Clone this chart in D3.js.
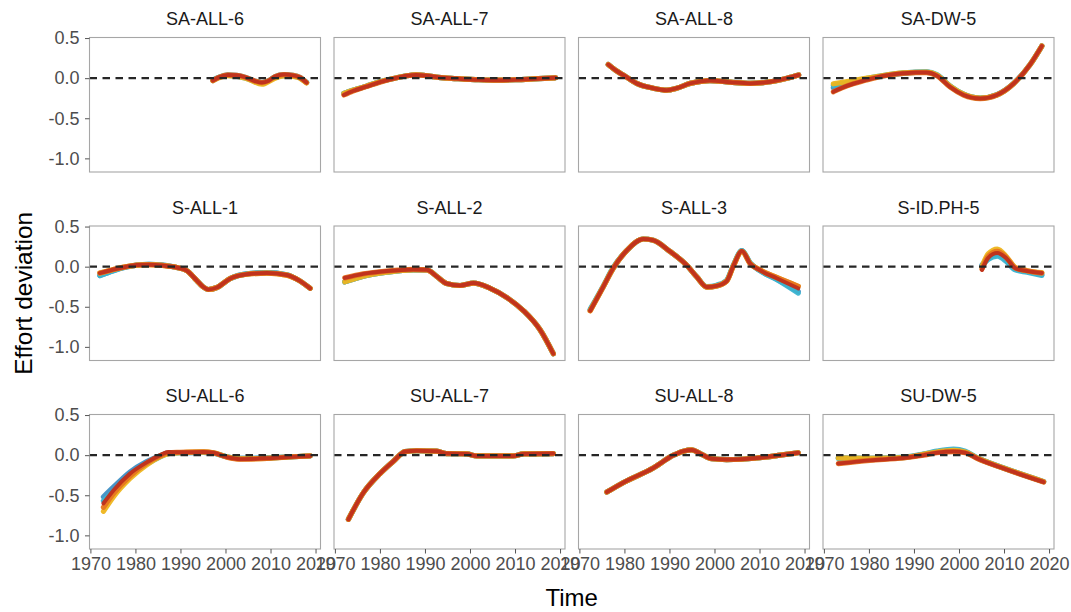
<!DOCTYPE html>
<html>
<head>
<meta charset="utf-8">
<script src="https://cdn.jsdelivr.net/npm/d3@7"></script>
<style>
  html, body { margin: 0; padding: 0; background: #fff; }
  svg { display: block; font-family: "Liberation Sans", Arial, Helvetica, sans-serif; }
</style>
</head>
<body>
<svg id="chart" width="1071" height="612"></svg>
<script>
// Facet labels, in reading order (4 columns x 3 rows)
const panelNames = [
  "SA-ALL-6", "SA-ALL-7", "SA-ALL-8", "SA-DW-5",
  "S-ALL-1", "S-ALL-2", "S-ALL-3", "S-ID.PH-5",
  "SU-ALL-6", "SU-ALL-7", "SU-ALL-8", "SU-DW-5"
];

// Axis ticks
const xTicks = [1970, 1980, 1990, 2000, 2010, 2020];
const xTickLabels = ["1970", "1980", "1990", "2000", "2010", "2020"];
const yTicks = [-1.0, -0.5, 0.0, 0.5];
const yTickLabels = ["-1.0", "-0.5", "0.0", "0.5"];

// Model runs, drawn bottom to top
const modelNames = ["blue", "cyan", "yellow", "orange", "red"];
const modelColors = ["#3f8fc4", "#3bb3d0", "#eeb51c", "#e7761f", "#be2f1d"];

// Smoothed effort deviation per facet: [year, deviation]
const red_SA_ALL_6 = [[1997.2,-0.03],[1998.5,0.01],[2000.5,0.04],[2002.5,0.035],[2004.5,0.01],[2006.5,-0.035],[2008.1,-0.055],[2009.5,-0.035],[2011,0.02],[2013,0.045],[2015,0.035],[2016.5,0.01],[2018,-0.055]];
const yellow_SA_ALL_6 = [[1997.2,-0.03],[2000.5,0.03],[2004.5,0.0],[2008.1,-0.075],[2011,0.0],[2013.5,0.03],[2016,0.01],[2018,-0.06]];
const cyan_SA_ALL_6 = [[1997.2,-0.02],[2000.5,0.035],[2004.5,0.0],[2008.1,-0.065],[2011,0.01],[2013.5,0.035],[2016,0.015],[2018,-0.05]];

const red_SA_ALL_7 = [[1972,-0.21],[1974,-0.16],[1977,-0.105],[1980,-0.05],[1983,-0.005],[1986,0.03],[1988,0.04],[1990.5,0.03],[1993,0.01],[1997,-0.005],[2002,-0.02],[2006,-0.025],[2010,-0.02],[2014,-0.01],[2019,0.005]];
const other_SA_ALL_7 = [[1972,-0.19],[1974,-0.15],[1977,-0.1],[1980,-0.045],[1983,-0.005],[1986,0.03],[1988,0.04],[1990.5,0.03],[1993,0.01],[1997,-0.005],[2002,-0.02],[2006,-0.025],[2010,-0.02],[2014,-0.01],[2019,0.005]];

const red_SA_ALL_8 = [[1976.4,0.17],[1978,0.1],[1980,0.03],[1982.7,-0.065],[1986.4,-0.125],[1989.4,-0.15],[1991.6,-0.125],[1994.6,-0.065],[1997,-0.04],[1999,-0.03],[2003.5,-0.05],[2007.9,-0.065],[2012.4,-0.045],[2016.1,0.0],[2018.7,0.04]];

const red_SA_DW_5 = [[1972.1,-0.17],[1974,-0.12],[1976.5,-0.07],[1979,-0.03],[1981.7,0.01],[1984.5,0.04],[1987.6,0.06],[1990.5,0.07],[1992.8,0.07],[1995.1,0.03],[1998,-0.11],[2001,-0.21],[2004.7,-0.255],[2008.4,-0.21],[2012.1,-0.07],[2015.8,0.17],[2018.4,0.4]];
const blue_SA_DW_5 = [[1972.1,-0.12],[1976.5,-0.05],[1981.7,0.015],[1987.6,0.06],[1992.8,0.075],[1995.1,0.035],[1998,-0.1],[2001,-0.2],[2004.7,-0.25],[2008.4,-0.205],[2012.1,-0.065],[2015.8,0.17],[2018.4,0.4]];
const yellow_SA_DW_5 = [[1972.1,-0.07],[1976.5,-0.03],[1981.7,0.02],[1987.6,0.065],[1992.8,0.075],[1995.1,0.04],[1998,-0.1],[2001,-0.2],[2004.7,-0.25],[2008.4,-0.21],[2012.1,-0.07],[2015.8,0.17],[2018.4,0.4]];
const cyan_SA_DW_5 = [[1972.1,-0.09],[1976.5,-0.04],[1981.7,0.02],[1987.6,0.065],[1992.8,0.08],[1995.1,0.045],[1998,-0.095],[2001,-0.2],[2004.7,-0.25],[2008.4,-0.21],[2012.1,-0.07],[2015.8,0.17],[2018.4,0.4]];

const red_S_ALL_1 = [[1972.1,-0.08],[1975.1,-0.035],[1978,0.0],[1980.3,0.02],[1983,0.025],[1986,0.015],[1989.2,-0.01],[1991.4,-0.05],[1993.6,-0.17],[1995,-0.25],[1996.2,-0.285],[1998.1,-0.26],[2001,-0.15],[2004.7,-0.095],[2009.2,-0.08],[2013.6,-0.105],[2016.6,-0.18],[2018.8,-0.27]];
const cyan_S_ALL_1 = [[1972.1,-0.11],[1975.1,-0.05],[1978,-0.005],[1980.3,0.02],[1983,0.03],[1986,0.02],[1989.2,-0.01],[1991.4,-0.05],[1993.6,-0.17],[1995,-0.25],[1996.2,-0.285],[1998.1,-0.26],[2001,-0.15],[2004.7,-0.09],[2009.2,-0.075],[2013.6,-0.1],[2016.6,-0.18],[2018.8,-0.27]];

const red_S_ALL_2 = [[1972.2,-0.14],[1976.3,-0.09],[1981.5,-0.055],[1987.4,-0.035],[1990.4,-0.04],[1992.6,-0.12],[1994.8,-0.21],[1997.8,-0.235],[2000.8,-0.205],[2004.5,-0.27],[2008.2,-0.385],[2011.9,-0.55],[2015.6,-0.79],[2018.5,-1.085]];
const other_S_ALL_2 = [[1972.2,-0.19],[1976.3,-0.12],[1981.5,-0.07],[1987.4,-0.04],[1990.4,-0.04],[1992.6,-0.12],[1994.8,-0.21],[1997.8,-0.235],[2000.8,-0.205],[2004.5,-0.27],[2008.2,-0.385],[2011.9,-0.55],[2015.6,-0.79],[2018.5,-1.085]];

const red_S_ALL_3 = [[1972.4,-0.55],[1975.3,-0.25],[1977.5,-0.02],[1980.5,0.2],[1984.2,0.345],[1986.4,0.33],[1990.1,0.19],[1993.8,0.02],[1996.1,-0.13],[1998.3,-0.255],[2000.5,-0.24],[2002.7,-0.18],[2004.2,0.01],[2006.1,0.195],[2007.9,0.04],[2010.1,-0.045],[2013.8,-0.145],[2018.6,-0.27]];
const cyan_S_ALL_3 = [[1972.4,-0.53],[1975.3,-0.24],[1977.5,-0.01],[1980.5,0.2],[1984.2,0.345],[1986.4,0.33],[1990.1,0.19],[1993.8,0.02],[1996.1,-0.13],[1998.3,-0.25],[2000.5,-0.23],[2002.7,-0.17],[2004.2,0.02],[2006.1,0.2],[2007.9,0.05],[2010.1,-0.05],[2013.8,-0.16],[2018.6,-0.33]];
const blue_S_ALL_3 = [[1972.4,-0.54],[1975.3,-0.25],[1977.5,-0.02],[1980.5,0.2],[1984.2,0.345],[1986.4,0.33],[1990.1,0.19],[1993.8,0.02],[1996.1,-0.13],[1998.3,-0.255],[2000.5,-0.24],[2002.7,-0.175],[2004.2,0.015],[2006.1,0.2],[2007.9,0.045],[2010.1,-0.05],[2013.8,-0.155],[2018.6,-0.31]];
const orange_S_ALL_3 = [[1972.4,-0.55],[1975.3,-0.25],[1977.5,-0.02],[1980.5,0.2],[1984.2,0.345],[1986.4,0.33],[1990.1,0.19],[1993.8,0.02],[1996.1,-0.13],[1998.3,-0.255],[2000.5,-0.24],[2002.7,-0.18],[2004.2,0.01],[2006.1,0.19],[2007.9,0.04],[2010.1,-0.04],[2013.8,-0.135],[2018.6,-0.245]];

const red_S_ID_PH_5 = [[2005.1,-0.04],[2006.5,0.11],[2008.5,0.17],[2010.6,0.1],[2012.5,-0.02],[2015.1,-0.055],[2018.4,-0.08]];
const yellow_S_ID_PH_5 = [[2005.1,0.0],[2006.5,0.16],[2008.5,0.22],[2010.6,0.12],[2012.5,-0.01],[2015.1,-0.05],[2018.4,-0.075]];
const cyan_S_ID_PH_5 = [[2005.1,0.0],[2006.5,0.09],[2008.5,0.13],[2010.6,0.06],[2012.5,-0.04],[2015.1,-0.07],[2018.4,-0.11]];
const blue_S_ID_PH_5 = [[2005.1,0.02],[2006.5,0.1],[2008.5,0.15],[2010.6,0.08],[2012.5,-0.03],[2015.1,-0.06],[2018.4,-0.1]];
const orange_S_ID_PH_5 = [[2005.1,-0.03],[2006.5,0.13],[2008.5,0.19],[2010.6,0.11],[2012.5,-0.015],[2015.1,-0.05],[2018.4,-0.08]];

const red_SU_ALL_6 = [[1972.9,-0.6],[1975.1,-0.44],[1978.8,-0.23],[1982.5,-0.09],[1985.5,0.0],[1987.3,0.04],[1989.9,0.035],[1995.1,0.04],[1997.3,0.03],[2000.3,-0.025],[2003.2,-0.05],[2009.2,-0.04],[2015.1,-0.02],[2018.8,-0.01]];
const yellow_SU_ALL_6 = [[1972.9,-0.7],[1975.1,-0.52],[1978.8,-0.29],[1982.5,-0.12],[1985.5,-0.02],[1987.3,0.02],[1989.9,0.03],[1995.1,0.04],[1997.3,0.03],[2000.3,-0.02],[2003.2,-0.045],[2009.2,-0.04],[2015.1,-0.02],[2018.8,-0.01]];
const blue_SU_ALL_6 = [[1972.9,-0.52],[1975.1,-0.4],[1978.8,-0.21],[1982.5,-0.08],[1985.5,-0.005],[1987.3,0.03],[1989.9,0.03],[1995.1,0.035],[1997.3,0.025],[2000.3,-0.02],[2003.2,-0.04],[2009.2,-0.035],[2015.1,-0.02],[2018.8,-0.01]];
const cyan_SU_ALL_6 = [[1972.9,-0.57],[1975.1,-0.45],[1978.8,-0.25],[1982.5,-0.11],[1985.5,-0.02],[1987.3,0.02],[1989.9,0.03],[1995.1,0.035],[1997.3,0.025],[2000.3,-0.02],[2003.2,-0.04],[2009.2,-0.035],[2015.1,-0.02],[2018.8,-0.01]];
const orange_SU_ALL_6 = [[1972.9,-0.65],[1975.1,-0.48],[1978.8,-0.26],[1982.5,-0.1],[1985.5,-0.01],[1987.3,0.03],[1989.9,0.035],[1995.1,0.04],[1997.3,0.03],[2000.3,-0.025],[2003.2,-0.05],[2009.2,-0.04],[2015.1,-0.02],[2018.8,-0.01]];

const red_SU_ALL_7 = [[1973,-0.8],[1976.3,-0.47],[1980,-0.23],[1983,-0.075],[1985.6,0.045],[1988.2,0.055],[1992.6,0.05],[1994.8,0.02],[1999.3,0.015],[2001.5,-0.01],[2009.6,-0.01],[2011.8,0.015],[2018.5,0.02]];

const red_SU_ALL_8 = [[1976.1,-0.46],[1979.8,-0.34],[1986.4,-0.16],[1990.9,0.0],[1993.1,0.05],[1995,0.065],[1996.8,0.02],[1999.4,-0.045],[2002.7,-0.055],[2009.4,-0.035],[2014.6,0.0],[2018.6,0.03]];

const red_SU_DW_5 = [[1973.2,-0.105],[1980.2,-0.065],[1987.6,-0.035],[1992.1,0.0],[1995.1,0.03],[1998.8,0.045],[2001.4,0.03],[2004,-0.04],[2009.9,-0.165],[2018.8,-0.335]];
const other_SU_DW_5 = [[1973.2,-0.035],[1980.2,-0.04],[1987.6,-0.03],[1992.1,0.01],[1995.1,0.04],[1998.8,0.06],[2001.4,0.04],[2004,-0.035],[2009.9,-0.16],[2018.8,-0.33]];
const cyan_SU_DW_5 = [[1973.2,-0.04],[1980.2,-0.04],[1987.6,-0.025],[1992.1,0.015],[1995.1,0.05],[1998.8,0.075],[2001.4,0.05],[2004,-0.03],[2009.9,-0.16],[2018.8,-0.33]];

// Runs per facet, in modelNames order (blue, cyan, yellow, orange, red)
const panelRuns = [
  [red_SA_ALL_6, cyan_SA_ALL_6, yellow_SA_ALL_6, red_SA_ALL_6, red_SA_ALL_6],
  [other_SA_ALL_7, other_SA_ALL_7, other_SA_ALL_7, red_SA_ALL_7, red_SA_ALL_7],
  [red_SA_ALL_8, red_SA_ALL_8, red_SA_ALL_8, red_SA_ALL_8, red_SA_ALL_8],
  [blue_SA_DW_5, cyan_SA_DW_5, yellow_SA_DW_5, red_SA_DW_5, red_SA_DW_5],
  [cyan_S_ALL_1, cyan_S_ALL_1, red_S_ALL_1, red_S_ALL_1, red_S_ALL_1],
  [other_S_ALL_2, other_S_ALL_2, other_S_ALL_2, red_S_ALL_2, red_S_ALL_2],
  [blue_S_ALL_3, cyan_S_ALL_3, orange_S_ALL_3, orange_S_ALL_3, red_S_ALL_3],
  [blue_S_ID_PH_5, cyan_S_ID_PH_5, yellow_S_ID_PH_5, orange_S_ID_PH_5, red_S_ID_PH_5],
  [blue_SU_ALL_6, cyan_SU_ALL_6, yellow_SU_ALL_6, orange_SU_ALL_6, red_SU_ALL_6],
  [red_SU_ALL_7, red_SU_ALL_7, red_SU_ALL_7, red_SU_ALL_7, red_SU_ALL_7],
  [red_SU_ALL_8, red_SU_ALL_8, red_SU_ALL_8, red_SU_ALL_8, red_SU_ALL_8],
  [other_SU_DW_5, cyan_SU_DW_5, other_SU_DW_5, red_SU_DW_5, red_SU_DW_5]
];

// ---- layout ----
const nCols = 4;
const panelW = 231, panelH = 134.5;
const colStep = 244.5, rowStep = 188.5;
const left0 = 89.5, top0 = 37.5;

const x = d3.scaleLinear().domain([1969.8, 2021.1]).range([0, panelW]);
const y = d3.scaleLinear().domain([-1.17, 0.507]).range([panelH, 0]);

const svg = d3.select("#chart");
svg.append("rect").attr("width", 1071).attr("height", 612).attr("fill", "#fff");

const line = d3.line()
  .x(d => x(d[0]))
  .y(d => y(d[1]))
  .curve(d3.curveMonotoneX);

panelNames.forEach((name, i) => {
  const col = i % nCols, row = Math.floor(i / nCols);
  const g = svg.append("g")
    .attr("transform", `translate(${left0 + col * colStep},${top0 + row * rowStep})`);

  // facet title
  g.append("text")
    .attr("x", panelW / 2).attr("y", -18.5).attr("dy", "0.35em")
    .attr("text-anchor", "middle")
    .attr("font-size", 18).attr("fill", "#1a1a1a")
    .text(name);

  // model runs; the wide underlay gives each fit its coloured fringe
  const runs = panelRuns[i];
  runs.forEach((run, m) => {
    g.append("path")
      .datum(run)
      .attr("d", line)
      .attr("fill", "none")
      .attr("stroke", modelColors[m])
      .attr("stroke-width", m === modelNames.length - 1 ? 4 : 5.2)
      .attr("stroke-linecap", "round")
      .attr("stroke-linejoin", "round")
      .attr("opacity", 0.95);
  });

  // zero reference
  g.append("line")
    .attr("x1", 0).attr("x2", panelW)
    .attr("y1", y(0)).attr("y2", y(0))
    .attr("stroke", "#262626").attr("stroke-width", 2.2)
    .attr("stroke-dasharray", "7.5,5.5");

  // panel border
  g.append("rect")
    .attr("width", panelW).attr("height", panelH)
    .attr("fill", "none").attr("stroke", "#a6a6a6").attr("stroke-width", 1.1);

  if (col === 0) {
    const ay = g.append("g").call(
      d3.axisLeft(y).tickValues(yTicks).tickSize(4.5).tickPadding(5.5)
        .tickFormat((d, k) => yTickLabels[k]));
    ay.select(".domain").remove();
    ay.selectAll(".tick line").attr("stroke", "#555");
    ay.selectAll(".tick text").attr("font-size", 18).attr("fill", "#4d4d4d")
      .attr("font-family", "Liberation Sans, Arial, sans-serif");
  }
  if (row === 2) {
    const ax = g.append("g").attr("transform", `translate(0,${panelH})`).call(
      d3.axisBottom(x).tickValues(xTicks).tickSize(4.5).tickPadding(3.5)
        .tickFormat((d, k) => xTickLabels[k]));
    ax.select(".domain").remove();
    ax.selectAll(".tick line").attr("stroke", "#555");
    ax.selectAll(".tick text").attr("font-size", 18).attr("fill", "#4d4d4d")
      .attr("font-family", "Liberation Sans, Arial, sans-serif");
  }
});

// axis titles
svg.append("text")
  .attr("x", left0 + (colStep * 3 + panelW) / 2).attr("y", 598).attr("dy", "0.35em")
  .attr("text-anchor", "middle").attr("font-size", 24).attr("fill", "#000")
  .text("Time");

svg.append("text")
  .attr("transform", `translate(23,${top0 + (rowStep * 2 + panelH) / 2}) rotate(-90)`)
  .attr("dy", "0.35em")
  .attr("text-anchor", "middle").attr("font-size", 24.5).attr("fill", "#000")
  .text("Effort deviation");
</script>
</body>
</html>
